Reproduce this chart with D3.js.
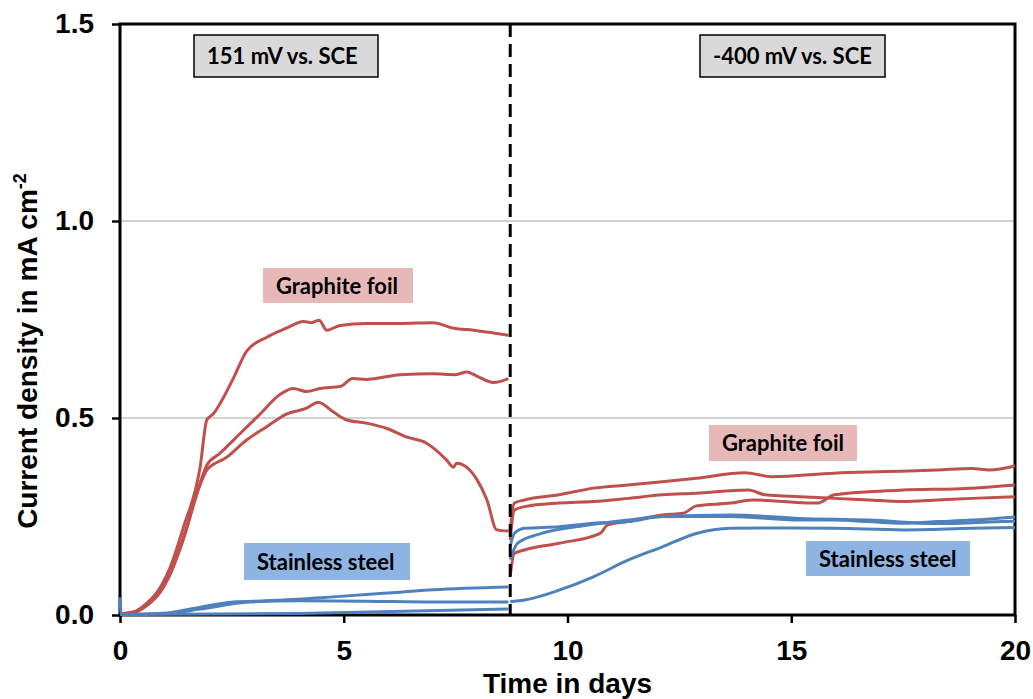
<!DOCTYPE html>
<html>
<head>
<meta charset="utf-8">
<script src="https://cdn.jsdelivr.net/npm/d3@7"></script>
<style>
  body { margin: 0; background: #fff; }
  .axis text { font-family: "Liberation Sans", Arial, sans-serif; font-weight: bold; font-size: 28px; fill: #000; }
  .axis line { stroke: #000; stroke-width: 2.5; }
  .axis path { display: none; }
  .title { font-family: "Liberation Sans", Arial, sans-serif; font-weight: bold; font-size: 28px; }
  .note { font-family: Lato, "Open Sans", sans-serif; font-weight: bold; font-size: 22px; }
</style>
</head>
<body>
<svg id="chart"></svg>
<script>
// tick labels
var xTicks = [0, 5, 10, 15, 20];
var yTicks = [0, 0.5, 1.0, 1.5];
var gridValues = [0.5, 1.0];
var switchDay = 8.72; // potential change

// graphite foil, 151 mV period  [day, mA cm-2]
var graphite1a = [[0,0.003],[0.35,0.01],[0.6,0.03],[0.9,0.07],[1.1,0.115],[1.41,0.22],[1.79,0.375],[1.94,0.495],[2.08,0.51],[2.53,0.6],[2.83,0.67],[3.28,0.705],[3.72,0.728],[4.1,0.745],[4.28,0.742],[4.45,0.748],[4.62,0.723],[4.92,0.735],[5.5,0.74],[6.26,0.74],[7.0,0.742],[7.45,0.728],[7.9,0.723],[8.34,0.716],[8.68,0.71]];
var graphite1b = [[0,0.003],[0.35,0.008],[0.6,0.025],[0.9,0.06],[1.1,0.1],[1.41,0.195],[1.79,0.335],[1.94,0.38],[2.23,0.41],[2.68,0.46],[3.13,0.51],[3.58,0.56],[3.87,0.575],[4.17,0.567],[4.47,0.575],[4.92,0.58],[5.2,0.6],[5.5,0.598],[6.26,0.61],[7.0,0.612],[7.5,0.61],[7.75,0.617],[8.0,0.605],[8.34,0.59],[8.68,0.6]];
var graphite1c = [[0,0.003],[0.35,0.008],[0.6,0.024],[0.9,0.058],[1.1,0.098],[1.41,0.19],[1.79,0.33],[1.94,0.368],[2.38,0.4],[2.83,0.444],[3.28,0.478],[3.72,0.51],[4.17,0.525],[4.43,0.54],[4.77,0.515],[5.07,0.495],[5.5,0.487],[5.95,0.474],[6.4,0.452],[6.85,0.436],[7.3,0.393],[7.45,0.375],[7.52,0.385],[7.98,0.343],[8.2,0.292],[8.42,0.216],[8.68,0.213]];

// stainless steel, 151 mV period
var steel1a = [[0,0.001],[1.05,0.005],[1.79,0.02],[2.53,0.033],[3.28,0.036],[4.77,0.046],[6.26,0.058],[7.0,0.064],[8.68,0.071]];
var steel1b = [[0,0.001],[1.05,0.004],[1.79,0.015],[2.9,0.033],[4.0,0.036],[5.5,0.035],[7.0,0.033],[8.68,0.033]];
var steel1c = [[0,0.045],[0.03,0.001],[4.0,0.004],[8.68,0.015]];

// graphite foil, -400 mV period
var graphite2a = [[8.72,0.215],[8.81,0.284],[9.04,0.292],[9.81,0.305],[10.58,0.322],[11.35,0.33],[12.12,0.338],[12.88,0.347],[13.96,0.361],[14.58,0.351],[15.96,0.36],[17.12,0.364],[18.27,0.368],[19.04,0.372],[19.43,0.368],[20,0.378]];
var graphite2b = [[8.72,0.19],[8.81,0.266],[9.04,0.275],[9.81,0.284],[10.58,0.288],[11.35,0.296],[12.12,0.305],[12.88,0.309],[14.04,0.317],[14.42,0.305],[15.19,0.3],[15.96,0.296],[16.73,0.292],[17.5,0.288],[18.27,0.292],[19.04,0.296],[20,0.3]];
var graphite2c = [[8.72,0.1],[8.81,0.156],[9.04,0.165],[9.81,0.182],[10.73,0.207],[10.89,0.228],[11.35,0.237],[12.12,0.254],[12.58,0.258],[12.88,0.277],[13.65,0.284],[14.12,0.292],[14.81,0.288],[15.58,0.284],[15.96,0.305],[16.73,0.313],[17.5,0.317],[19.04,0.322],[20,0.33]];

// stainless steel, -400 mV period
var steel2a = [[8.72,0.175],[8.81,0.207],[9.04,0.22],[9.81,0.224],[10.58,0.233],[11.35,0.237],[12.12,0.25],[13.65,0.25],[15.19,0.241],[15.96,0.241],[16.73,0.237],[17.5,0.233],[18.27,0.237],[19.04,0.241],[20,0.249]];
var steel2b = [[8.72,0.14],[8.88,0.182],[9.42,0.207],[10.19,0.224],[11.35,0.241],[12.12,0.25],[13.65,0.254],[15.19,0.245],[16.73,0.241],[18.27,0.232],[19.43,0.236],[20,0.238]];
var steel2c = [[8.72,0.034],[9.04,0.038],[9.81,0.063],[10.58,0.097],[11.35,0.139],[12.12,0.173],[12.88,0.207],[13.65,0.22],[14.42,0.221],[15.96,0.22],[17.5,0.216],[19.04,0.22],[20,0.222]];

var graphiteSeries = [graphite1a, graphite1b, graphite1c, graphite2a, graphite2b, graphite2c];
var steelSeries = [steel1a, steel1b, steel1c, steel2a, steel2b, steel2c];

var w = 1033;
var h = 699;
var padding = { top: 24, bottom: 84, left: 120, right: 18 };

var svg = d3.select("#chart")
  .attr("width", w)
  .attr("height", h);

var xScale = d3.scaleLinear()
  .domain([0, 20])
  .range([padding.left, w - padding.right]);

var yScale = d3.scaleLinear()
  .domain([0, 1.5])
  .range([h - padding.bottom, padding.top]);

//grid lines
svg.selectAll("line.grid")
  .data(gridValues)
  .enter()
  .append("line")
  .attr("class", "grid")
  .attr("x1", xScale(0))
  .attr("x2", xScale(20))
  .attr("y1", function(d) { return yScale(d); })
  .attr("y2", function(d) { return yScale(d); })
  .attr("stroke", "#a6a6a6")
  .attr("stroke-width", 1.2);

//axes
svg.append("g")
  .attr("class", "axis")
  .attr("transform", "translate(" + padding.left + ",0)")
  .call(d3.axisLeft(yScale).tickValues(yTicks).tickFormat(d3.format(".1f")).tickSize(8).tickPadding(18));

svg.append("g")
  .attr("class", "axis")
  .attr("transform", "translate(0," + (h - padding.bottom) + ")")
  .call(d3.axisBottom(xScale).tickValues(xTicks).tickFormat(d3.format("d")).tickSize(8).tickPadding(17));

//frame
svg.append("rect")
  .attr("x", xScale(0))
  .attr("y", yScale(1.5))
  .attr("width", xScale(20) - xScale(0))
  .attr("height", yScale(0) - yScale(1.5))
  .attr("fill", "none")
  .attr("stroke", "#000")
  .attr("stroke-width", 3);

//data lines
var line = d3.line()
  .x(function(d) { return xScale(d[0]); })
  .y(function(d) { return yScale(d[1]); })
  .curve(d3.curveMonotoneX);

svg.selectAll("path.graphite")
  .data(graphiteSeries)
  .enter()
  .append("path")
  .attr("class", "graphite")
  .attr("d", line)
  .attr("fill", "none")
  .attr("stroke", "#c0504d")
  .attr("stroke-width", 3)
  .attr("stroke-linejoin", "round");

svg.selectAll("path.steel")
  .data(steelSeries)
  .enter()
  .append("path")
  .attr("class", "steel")
  .attr("d", line)
  .attr("fill", "none")
  .attr("stroke", "#4f81bd")
  .attr("stroke-width", 3)
  .attr("stroke-linejoin", "round");

//potential switch
svg.append("line")
  .attr("x1", xScale(switchDay))
  .attr("x2", xScale(switchDay))
  .attr("y1", yScale(1.5))
  .attr("y2", yScale(0))
  .attr("stroke", "#000")
  .attr("stroke-width", 3)
  .attr("stroke-dasharray", "13,7");

//text boxes
var notes = [
  { text: "151 mV vs. SCE", x: 194, y: 35, w: 184, h: 42, fill: "#d9d9d9", border: true },
  { text: "-400 mV vs. SCE", x: 700, y: 35, w: 185, h: 42, fill: "#d9d9d9", border: true },
  { text: "Graphite foil", x: 263, y: 268, w: 150, h: 35, fill: "#e6b9b8", border: false },
  { text: "Stainless steel", x: 244, y: 543, w: 166, h: 37, fill: "#8eb4e3", border: false },
  { text: "Graphite foil", x: 709, y: 425, w: 148, h: 36, fill: "#e6b9b8", border: false },
  { text: "Stainless steel", x: 806, y: 541, w: 164, h: 35, fill: "#8eb4e3", border: false }
];

notes.forEach(function(n) {
  svg.append("rect")
    .attr("x", n.x)
    .attr("y", n.y)
    .attr("width", n.w)
    .attr("height", n.h)
    .attr("fill", n.fill)
    .attr("stroke", n.border ? "#000" : "none")
    .attr("stroke-width", 1.5);
  svg.append("text")
    .text(n.text)
    .attr("class", "note")
    .attr("x", n.x + 13)
    .attr("y", n.y + n.h / 2 + 8);
});

//axis labels
svg.append("text")
  .text("Time in days")
  .attr("class", "title")
  .attr("text-anchor", "middle")
  .attr("x", (xScale(0) + xScale(20)) / 2)
  .attr("y", 693);

var yTitle = svg.append("text")
  .attr("class", "title")
  .attr("text-anchor", "middle")
  .attr("transform", "translate(37,351) rotate(-90)");
yTitle.append("tspan").text("Current density in mA cm");
yTitle.append("tspan").text("-2").attr("font-size", "18px").attr("dy", -11);
</script>
</body>
</html>
